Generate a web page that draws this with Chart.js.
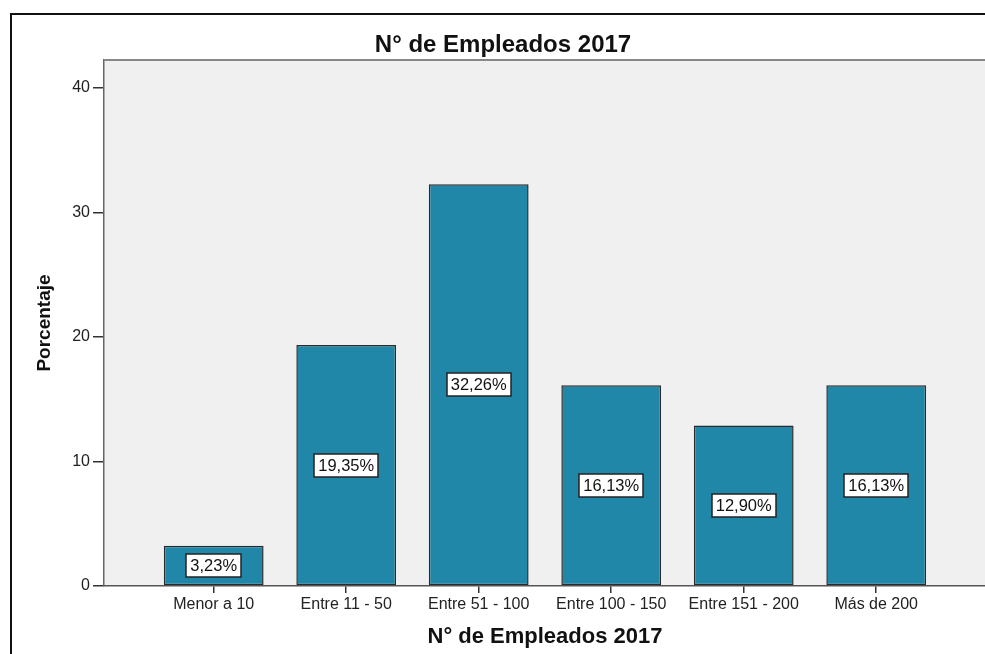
<!DOCTYPE html>
<html>
<head>
<meta charset="utf-8">
<script src="https://cdn.jsdelivr.net/npm/chart.js@4/dist/chart.umd.min.js"></script>
<style>
  html, body { margin: 0; padding: 0; background: #fff; }
  #caja { width: 985px; height: 654px; }
</style>
</head>
<body>
<div id="caja"><canvas id="myChart" width="985" height="654"></canvas></div>
<script>
const categorias = ["Menor a 10", "Entre 11 - 50", "Entre 51 - 100", "Entre 100 - 150", "Entre 151 - 200", "Más de 200"];
const porcentajes = [3.23, 19.35, 32.26, 16.13, 12.90, 16.13];
const ticksY = [0, 10, 20, 30, 40];

const titulo = "N° de Empleados 2017";
const tituloY = "Porcentaje";
const fuente = "'Liberation Sans', Arial, sans-serif";

// fondo, marco, titulos y etiquetas de las barras
const marco = {
  id: "marco",
  beforeDraw(chart) {
    const { ctx, chartArea: a } = chart;
    ctx.save();
    ctx.fillStyle = "#ffffff";
    ctx.fillRect(0, 0, chart.width, chart.height);
    ctx.fillStyle = "#f0f0f0";
    ctx.fillRect(a.left, a.top, a.right - a.left, a.bottom - a.top);
    ctx.strokeStyle = "#111";
    ctx.lineWidth = 2;
    ctx.beginPath();
    ctx.moveTo(11, chart.height);
    ctx.lineTo(11, 14);
    ctx.lineTo(chart.width, 14);
    ctx.stroke();
    ctx.restore();
  },
  afterDatasetsDraw(chart) {
    const { ctx } = chart;
    const meta = chart.getDatasetMeta(0);
    ctx.save();
    ctx.font = "16.5px " + fuente;
    ctx.textAlign = "center";
    ctx.textBaseline = "middle";
    meta.data.forEach((bar, i) => {
      const txt = porcentajes[i].toFixed(2).replace(".", ",") + "%";
      const w = Math.round(ctx.measureText(txt).width + 8);
      const h = 23;
      const cx = bar.x;
      const cy = (bar.y + bar.base) / 2;
      const x0 = Math.round(cx - w / 2);
      const y0 = Math.round(cy - h / 2);
      ctx.fillStyle = "#fff";
      ctx.fillRect(x0, y0, w, h);
      ctx.strokeStyle = "#222";
      ctx.lineWidth = 1.5;
      ctx.strokeRect(x0, y0, w, h);
      ctx.fillStyle = "#111";
      ctx.fillText(txt, cx, cy + 1);
    });
    ctx.restore();
  },
  afterDraw(chart) {
    const { ctx, chartArea: a } = chart;
    ctx.save();
    // borde superior del area
    ctx.strokeStyle = "#888";
    ctx.lineWidth = 2;
    ctx.beginPath();
    ctx.moveTo(a.left, a.top);
    ctx.lineTo(a.right, a.top);
    ctx.stroke();

    ctx.fillStyle = "#111";
    ctx.textAlign = "center";
    ctx.textBaseline = "alphabetic";
    ctx.font = "bold 24px " + fuente;
    ctx.fillText(titulo, 503, 52);
    ctx.font = "bold 22px " + fuente;
    ctx.fillText(titulo, 545, 643);

    ctx.translate(45, 323);
    ctx.rotate(-Math.PI / 2);
    ctx.textBaseline = "middle";
    ctx.font = "bold 19px " + fuente;
    ctx.fillText(tituloY, 0, 0);
    ctx.restore();
  }
};

const ctx = document.getElementById("myChart").getContext("2d");
const myChart = new Chart(ctx, {
  type: "bar",
  data: {
    datasets: [
      {
        data: porcentajes.map((v, i) => ({ x: i, y: v })),
        backgroundColor: "#2187a8",
        borderColor: "#2b2b2b",
        borderWidth: 1.5,
        borderSkipped: false,
        barPercentage: 0.753,
        categoryPercentage: 1,
      },
    ],
  },
  options: {
    responsive: false,
    animation: false,
    layout: { padding: { top: 60, left: 0, right: 0, bottom: 0 } },
    plugins: {
      legend: { display: false },
      tooltip: { enabled: false },
    },
    scales: {
      x: {
        type: "linear",
        offset: false,
        min: -0.828,
        max: 5.821,
        afterBuildTicks: (axis) => {
          axis.ticks = categorias.map((c, i) => ({ value: i }));
        },
        afterFit: (axis) => { axis.height = 68; },
        ticks: {
          callback: (v) => categorias[v],
          color: "#222",
          font: { family: fuente, size: 16 },
          padding: 2,
          maxRotation: 0,
          autoSkip: false,
        },
        grid: {
          offset: false,
          drawOnChartArea: false,
          tickLength: 7,
          color: "#333",
          lineWidth: 1.5,
        },
        border: { color: "#555", width: 1.5 },
      },
      y: {
        min: 0,
        max: 42.25,
        afterBuildTicks: (axis) => {
          axis.ticks = ticksY.map((v) => ({ value: v }));
        },
        afterFit: (axis) => { axis.width = 104; },
        ticks: {
          color: "#222",
          font: { family: fuente, size: 16 },
          padding: 3,
        },
        grid: {
          drawOnChartArea: false,
          tickLength: 11,
          color: "#333",
          lineWidth: 1.5,
        },
        border: { color: "#666", width: 1.5 },
      },
    },
  },
  plugins: [marco],
});
</script>
</body>
</html>
